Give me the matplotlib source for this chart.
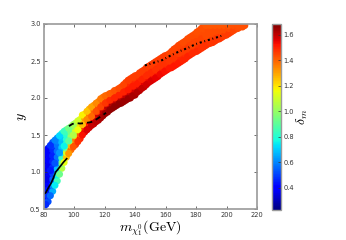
import matplotlib
matplotlib.use("Agg")
import matplotlib.pyplot as plt

mass = [80,83,86,89,92,95,98,101,104,107,110,113,116,119,122,125,128,131,134,137,140,143,146,149,152,155,158,161,164,167,170,173,176,179,182,185,188,191,194,197,200,203,206,209,212]
y_rows = [
[.52,.58,.66,.74,.82,.90,.98,1.06,1.14,1.22,1.26],
[.60,.68,.76,.84,.92,1.00,1.08,1.16,1.24,1.32],
[.74,.82,.90,.98,1.06,1.14,1.22,1.30,1.36,1.40],
[.88,.96,1.04,1.12,1.20,1.28,1.36,1.42,1.46],
[1.05,1.12,1.19,1.26,1.33,1.40,1.47,1.52],
[1.20,1.26,1.32,1.38,1.44,1.50,1.54,1.57],
[1.30,1.36,1.42,1.48,1.54,1.58,1.61],
[1.37,1.43,1.49,1.55,1.61,1.66],
[1.45,1.51,1.57,1.63,1.67,1.71],
[1.54,1.60,1.66,1.72,1.78],
[1.60,1.66,1.72,1.78,1.82,1.85],
[1.65,1.71,1.77,1.83,1.87,1.90],
[1.70,1.76,1.82,1.88,1.92,1.95],
[1.76,1.82,1.88,1.94,1.98,2.01],
[1.81,1.87,1.93,1.99,2.04],
[1.86,1.92,1.98,2.04,2.07],
[1.90,1.96,2.02,2.08,2.11],
[1.93,1.99,2.05,2.11,2.15],
[1.97,2.03,2.09,2.15,2.18,2.21],
[2.00,2.06,2.12,2.18,2.23,2.26],
[2.04,2.10,2.16,2.22,2.27,2.30],
[2.10,2.16,2.22,2.28,2.34],
[2.15,2.21,2.27,2.33,2.38],
[2.21,2.27,2.33,2.39,2.43],
[2.25,2.31,2.37,2.43,2.47],
[2.29,2.35,2.41,2.47,2.51],
[2.34,2.40,2.46,2.52,2.55],
[2.38,2.44,2.50,2.56,2.58],
[2.41,2.47,2.53,2.59,2.63],
[2.45,2.51,2.57,2.63,2.68],
[2.49,2.55,2.61,2.67,2.73],
[2.53,2.59,2.65,2.71,2.77],
[2.58,2.64,2.70,2.76,2.82],
[2.62,2.68,2.74,2.80,2.86],
[2.65,2.71,2.77,2.83,2.91],
[2.69,2.75,2.81,2.87,2.93,2.98],
[2.73,2.79,2.85,2.91,2.98],
[2.75,2.81,2.87,2.93,2.98],
[2.79,2.85,2.91,2.98],
[2.82,2.88,2.94,2.98],
[2.85,2.91,2.98],
[2.89,2.95,2.98],
[2.93,2.98],
[2.96],
[2.98],
]
delta_rows = [
[.50,.45,.42,.38,.36,.34,.33,.33,.34,.36,.38],
[.52,.48,.44,.41,.39,.38,.38,.39,.41,.44],
[.66,.60,.54,.50,.47,.46,.46,.47,.50,.54],
[.85,.76,.68,.62,.58,.57,.58,.60,.64],
[1.05,.95,.84,.74,.69,.68,.70,.78],
[1.25,1.12,.98,.86,.80,.80,.84,.90],
[1.38,1.26,1.12,1.00,.94,.92,.98],
[1.46,1.36,1.24,1.12,1.03,1.05],
[1.50,1.42,1.32,1.22,1.14,1.14],
[1.55,1.48,1.38,1.30,1.22],
[1.58,1.52,1.43,1.36,1.30,1.28],
[1.60,1.55,1.47,1.40,1.34,1.32],
[1.62,1.58,1.50,1.43,1.38,1.36],
[1.64,1.60,1.53,1.46,1.41,1.38],
[1.65,1.61,1.54,1.47,1.40],
[1.66,1.62,1.55,1.48,1.42],
[1.66,1.62,1.55,1.48,1.43],
[1.66,1.61,1.54,1.48,1.44],
[1.65,1.60,1.54,1.49,1.46,1.45],
[1.64,1.59,1.54,1.49,1.46,1.45],
[1.63,1.58,1.53,1.49,1.47,1.45],
[1.61,1.57,1.52,1.49,1.46],
[1.59,1.55,1.51,1.48,1.46],
[1.57,1.54,1.50,1.48,1.45],
[1.56,1.53,1.50,1.47,1.46],
[1.55,1.52,1.49,1.47,1.45],
[1.54,1.51,1.49,1.47,1.46],
[1.53,1.50,1.48,1.47,1.46],
[1.52,1.50,1.48,1.46,1.45],
[1.52,1.49,1.47,1.46,1.45],
[1.51,1.49,1.47,1.46,1.44],
[1.50,1.48,1.47,1.45,1.44],
[1.50,1.48,1.46,1.45,1.44],
[1.49,1.47,1.46,1.45,1.43],
[1.49,1.47,1.46,1.44,1.43],
[1.48,1.47,1.45,1.44,1.43,1.42],
[1.48,1.46,1.45,1.44,1.43],
[1.48,1.46,1.45,1.44,1.43],
[1.47,1.46,1.44,1.43],
[1.47,1.45,1.44,1.43],
[1.46,1.45,1.43],
[1.46,1.44,1.43],
[1.45,1.43],
[1.44],
[1.43],
]
mid_mass = [81.5,84.5,87.5,90.5,93.5,96.5,99.5,102.5,105.5,108.5,111.5,114.5,117.5,120.5,123.5,126.5,129.5,132.5,135.5,138.5,141.5,144.5,147.5,150.5,153.5,156.5,159.5,162.5,165.5,168.5,171.5,174.5,177.5,180.5,183.5,186.5,189.5,192.5,195.5,198.5,201.5,204.5,207.5,210.5]
mid_y_rows = [
[.56,.90,1.29],[.68,1.02,1.36],[.82,1.12,1.43],[.97,1.26,1.49],[1.13,1.35,1.55],
[1.25,1.42,1.59],[1.34,1.50,1.64],[1.41,1.57,1.69],[1.50,1.64,1.77],[1.57,1.71,1.82],
[1.63,1.75,1.88],[1.68,1.82,1.93],[1.73,1.88,1.99],[1.79,1.93,2.03],[1.84,1.97,2.06],
[1.88,2.00,2.10],[1.92,2.04,2.13],[1.95,2.08,2.18],[1.99,2.11,2.24],[2.03,2.16,2.28],
[2.08,2.19,2.31],[2.13,2.25,2.36],[2.18,2.30,2.41],[2.23,2.34,2.45],[2.27,2.38,2.49],
[2.32,2.43,2.53],[2.36,2.47,2.57],[2.40,2.50,2.60],[2.43,2.54,2.66],[2.47,2.60,2.71],
[2.51,2.63,2.75],[2.56,2.67,2.80],[2.60,2.71,2.84],[2.63,2.76,2.89],[2.67,2.80,2.94],
[2.71,2.84,2.98],[2.74,2.87,2.98],[2.77,2.90,2.98],[2.80,2.91,2.98],[2.84,2.92,2.98],
[2.87,2.94,2.98],[2.91,2.98],[2.94,2.98],[2.96],
]
mid_delta_rows = [
[.47,.36,.40],[.56,.44,.48],[.75,.53,.60],[.93,.63,.72],[1.14,.76,.84],
[1.32,.90,.94],[1.42,1.05,1.02],[1.48,1.16,1.10],[1.53,1.26,1.18],[1.57,1.34,1.25],
[1.59,1.39,1.30],[1.61,1.43,1.34],[1.63,1.45,1.37],[1.65,1.47,1.39],[1.66,1.49,1.41],
[1.66,1.50,1.42],[1.66,1.50,1.44],[1.65,1.50,1.45],[1.65,1.51,1.46],[1.63,1.51,1.46],
[1.62,1.51,1.46],[1.60,1.50,1.46],[1.58,1.49,1.46],[1.57,1.49,1.46],[1.55,1.48,1.46],
[1.54,1.48,1.46],[1.53,1.48,1.46],[1.52,1.47,1.45],[1.52,1.47,1.45],[1.51,1.46,1.45],
[1.50,1.46,1.44],[1.50,1.46,1.44],[1.49,1.45,1.44],[1.49,1.45,1.43],[1.48,1.45,1.43],
[1.48,1.44,1.42],[1.47,1.44,1.42],[1.47,1.44,1.42],[1.47,1.44,1.42],[1.46,1.44,1.42],
[1.46,1.44,1.42],[1.45,1.43],[1.44,1.43],[1.43],
]
solid_x = [80,81.5,83,85,86.5,88,89.6,91.5,93,95.2]
solid_y = [.70,.72,.78,.85,.92,1.00,1.04,1.09,1.13,1.18]
dash_x = [96.7,99,101.7,104,107,110,112.4,116,119,121]
dash_y = [1.62,1.65,1.66,1.655,1.66,1.67,1.68,1.73,1.77,1.80]
dot_x = [146.5,152,157.6,163,169,175,180,186,192.3,198]
dot_y = [2.44,2.475,2.51,2.57,2.63,2.68,2.73,2.77,2.81,2.85]
x_ticks = [80,100,120,140,160,180,200,220]
y_ticks = [.5,1.0,1.5,2.0,2.5,3.0]
cbar_ticks = [.4,.6,.8,1.0,1.2,1.4,1.6]

xs, ys, ds = [], [], []
for group in ((mass, y_rows, delta_rows), (mid_mass, mid_y_rows, mid_delta_rows)):
    for m, yr, dr in zip(*group):
        for a, b in zip(yr, dr):
            xs.append(m); ys.append(a); ds.append(b)

GREY = "#9a9a9a"
fig = plt.figure(figsize=(3.46, 2.40), dpi=100)
ax = fig.add_axes([43.5/346, 1-209/240, 213.5/346, 185/240])
sc = ax.scatter(xs, ys, c=ds, cmap="jet", vmin=.227, vmax=1.686, s=26, marker="o", linewidths=0)
ax.plot(solid_x, solid_y, color="k", lw=1.2)
ax.plot(dash_x, dash_y, color="k", lw=1.3, ls=(0, (3, 2.2)))
ax.plot(dot_x, dot_y, color="k", lw=1.5, ls=(0, (1.0, 1.3, 0.4, 1.38)))
ax.set_xlim(80, 220)
ax.set_ylim(.5, 3.0)
ax.set_xticks(x_ticks)
ax.set_yticks(y_ticks)
ax.set_yticklabels(["%.1f" % v for v in y_ticks])
ax.tick_params(direction="in", top=True, right=True, length=2, width=.5, labelsize=4.8, pad=2, colors="#333333")
for s in ax.spines.values():
    s.set_color(GREY); s.set_linewidth(1.2)
ax.set_xlabel(r"$m_{\chi_1^0}(\mathrm{GeV})$", fontsize=10, math_fontfamily="cm", labelpad=0)
ax.set_ylabel(r"$y$", fontsize=10, math_fontfamily="cm", labelpad=1)

cax = fig.add_axes([271.5/346, 1-210/240, 9.5/346, 186/240])
cb = fig.colorbar(sc, cax=cax)
cb.set_ticks(cbar_ticks)
cb.set_ticklabels(["%.1f" % v for v in cbar_ticks])
cax.tick_params(direction="in", length=2, width=.5, labelsize=4.8, pad=2, colors="#333333")
cb.outline.set_edgecolor(GREY); cb.outline.set_linewidth(1.0)
cb.set_label(r"$\delta_m$", fontsize=10, math_fontfamily="cm", labelpad=0)
fig.savefig("out.png", dpi=100)
